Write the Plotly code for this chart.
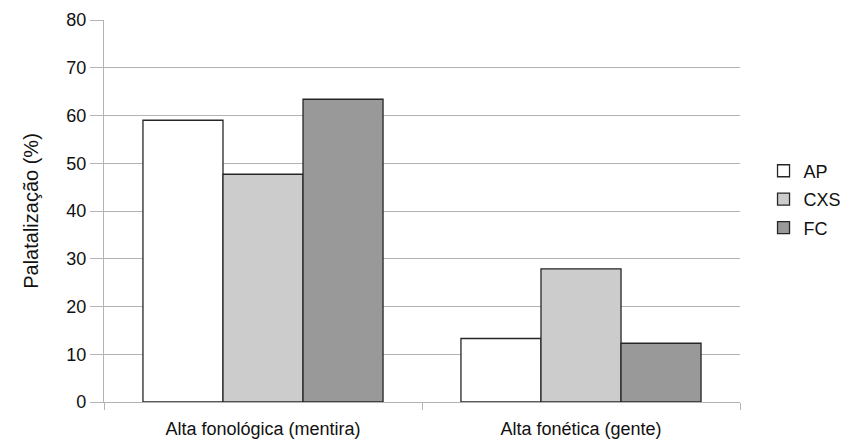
import plotly.graph_objects as go

# Palatalization rates by context and speaker group
categories = ["Alta fonológica (mentira)", "Alta fonética (gente)"]
series_names = ["AP", "CXS", "FC"]
ap_values = [59.0, 13.3]
cxs_values = [47.7, 27.9]
fc_values = [63.4, 12.3]
y_ticks = [0, 10, 20, 30, 40, 50, 60, 70, 80]
grid_ticks = [10, 20, 30, 40, 50, 60, 70]

fills = ["#ffffff", "#cccccc", "#999999"]
axis_grey = "#b3b3b3"
font_family = "Liberation Sans, Arial, sans-serif"

fig = go.Figure()
for name, vals, fill in zip(series_names, [ap_values, cxs_values, fc_values], fills):
    fig.add_trace(go.Bar(
        name=name, x=categories, y=vals,
        marker=dict(color=fill, line=dict(color="#262626", width=1.3)),
        legendgroup=name,
    ))

# invisible helper trace so the overlaid grid axis is rendered
fig.add_trace(go.Scatter(x=categories, y=[None, None], yaxis="y2",
                         showlegend=False, hoverinfo="skip"))

fig.update_layout(
    width=847, height=442,
    margin=dict(l=104, r=107, t=20, b=40, autoexpand=False),
    paper_bgcolor="white", plot_bgcolor="white",
    font=dict(family=font_family, size=18, color="#111111"),
    barmode="group", bargap=0.245, bargroupgap=0,
    showlegend=True,
    legend=dict(x=1.037, y=0.53, xanchor="left", yanchor="middle",
                traceorder="grouped", tracegroupgap=2,
                font=dict(size=18), bgcolor="rgba(0,0,0,0)"),
    xaxis=dict(
        showline=True, linecolor=axis_grey, linewidth=1.3,
        ticks="outside", ticklen=7, tickcolor=axis_grey, tickwidth=1.3,
        tickson="boundaries", ticklabelstandoff=10,
        showgrid=False, tickfont=dict(size=18),
    ),
    yaxis=dict(
        range=[0, 80], tickvals=y_ticks,
        showline=True, linecolor=axis_grey, linewidth=1.3,
        ticks="outside", ticklen=13, tickcolor=axis_grey, tickwidth=1.3,
        showgrid=False, zeroline=False, tickfont=dict(size=18),
        title=dict(text="Palatalização (%)", font=dict(size=20), standoff=22),
    ),
    yaxis2=dict(
        range=[0, 80], overlaying="y", side="left", tickvals=grid_ticks,
        showgrid=True, gridcolor=axis_grey, gridwidth=1.3,
        showticklabels=False, ticks="", zeroline=False, showline=False,
    ),
)

# draw the grid below the bars
fig.update_layout(yaxis2_layer="below traces")

fig.write_html("out.html")
